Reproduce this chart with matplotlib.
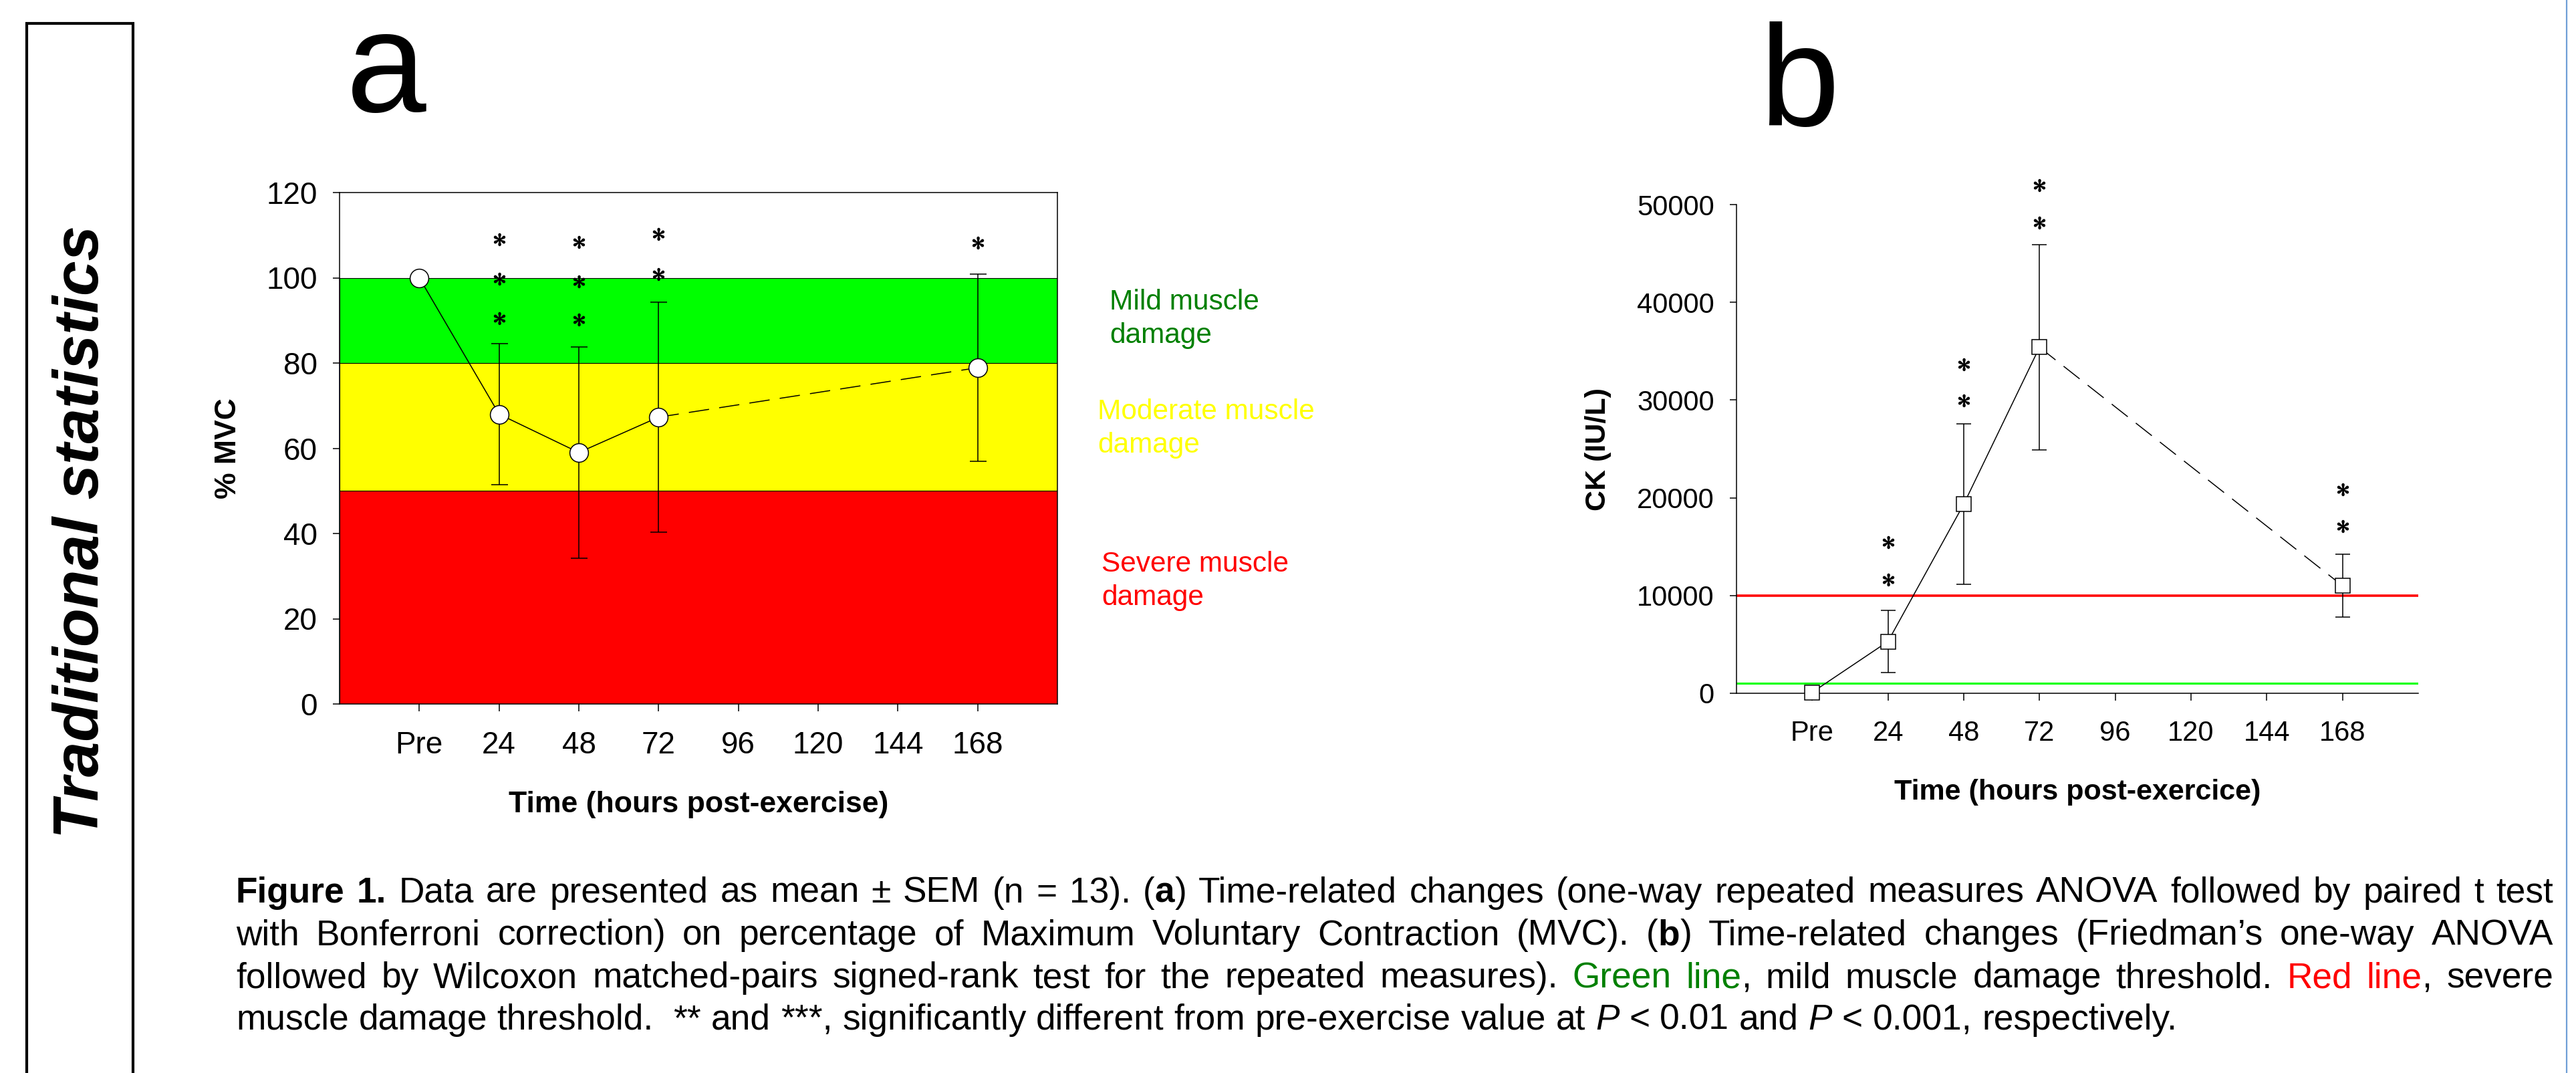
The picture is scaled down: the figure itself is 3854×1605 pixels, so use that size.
import matplotlib
matplotlib.use('Agg')
import matplotlib.pyplot as plt
from matplotlib.patches import Rectangle
from matplotlib.lines import Line2D

plt.rcParams['font.family'] = ['Liberation Sans', 'DejaVu Sans']
plt.rcParams['mathtext.fontset'] = 'stix'

W, H = 3854, 1605

# ---- data ----
tick_hours = [0, 24, 48, 72, 96, 120, 144, 168]
tick_labels = ['Pre', '24', '48', '72', '96', '120', '144', '168']

# panel a: % MVC
mvc_hours = [0, 24, 48, 72, 168]
mvc_mean = [100, 68, 59, 67.3, 78.9]
mvc_sem = [0, 16.6, 24.8, 27, 22]
star_a_hours = [24, 24, 24, 48, 48, 48, 72, 72, 168]
star_a_y = [109, 99.7, 90.5, 108.4, 99.2, 90.2, 110.2, 100.8, 108.2]
zone_bounds = [0, 50, 80, 100]
zone_colors = ['#FF0000', '#FFFF00', '#00FF00']

# panel b: CK
ck_hours = [0, 24, 48, 72, 168]
ck_mean = [100, 5300, 19350, 35400, 11000]
ck_sem = [0, 3180, 8200, 10500, 3230]
star_b_hours = [24, 24, 48, 48, 72, 72, 168, 168]
star_b_y = [15440, 11610, 33640, 29950, 51980, 48150, 20830, 17080]
severe_ck = 10000
mild_ck = 1000


def fx(px):
    return px / W


def fy(py):
    return 1 - py / H


fig = plt.figure(figsize=(W / 100, H / 100), dpi=100)


def style_axes(ax, size):
    ax.set_xlim(-24, 192)
    ax.set_xticks(tick_hours)
    ax.set_xticklabels(tick_labels)
    for s in ax.spines.values():
        s.set_linewidth(1.1)
    ax.tick_params(axis='x', length=8, width=1.1, pad=21, labelsize=size)
    ax.tick_params(axis='y', length=7, width=1.1, pad=17, labelsize=size)


# ---- panel a ----
axa = fig.add_axes([fx(508), fy(1053), fx(1074), 765 / H])
for lo, hi, c in zip(zone_bounds[:-1], zone_bounds[1:], zone_colors):
    axa.axhspan(lo, hi, facecolor=c, edgecolor='k', lw=0.8, zorder=0)
axa.set_ylim(0, 120)
axa.set_yticks(range(0, 121, 20))
style_axes(axa, 33)
axa.errorbar(mvc_hours[1:], mvc_mean[1:], yerr=mvc_sem[1:], fmt='none', ecolor='k',
             elinewidth=1.1, capsize=9, capthick=1.1, zorder=3)
axa.plot(mvc_hours[:4], mvc_mean[:4], color='k', lw=1.1, zorder=3)
axa.plot(mvc_hours[3:], mvc_mean[3:], color='k', lw=1.1, ls=(0, (20, 10)), zorder=3)
axa.plot(mvc_hours, mvc_mean, ls='none', marker='o', ms=20, mfc='white', mec='k',
         mew=1.1, zorder=4)
axa.plot(star_a_hours, star_a_y, ls='none', marker=r'$\ast$', ms=13, color='k',
         clip_on=False, zorder=5)
axa.set_ylabel('% MVC', fontsize=32, fontweight='bold')
axa.yaxis.set_label_coords(-0.1546, 0.5)
axa.yaxis.label.set_va('center')
axa.set_xlabel('Time (hours post-exercise)', fontsize=32, fontweight='bold')
axa.xaxis.set_label_coords(0.5, -0.212)
axa.xaxis.label.set_va('baseline')

# zone labels
zone_text = [('Mild muscle', 'damage', '#008000', 1660, 463),
             ('Moderate muscle', 'damage', '#FFFF00', 1642, 627),
             ('Severe muscle', 'damage', '#FF0000', 1648, 855)]
for l1, l2, c, x, y in zone_text:
    fig.text(fx(x), fy(y), l1, color=c, fontsize=30.5, va='baseline')
    fig.text(fx(x), fy(y + 50), l2, color=c, fontsize=30.5, va='baseline')

# ---- panel b ----
axb = fig.add_axes([fx(2598), fy(1037), fx(1020), 731 / H])
axb.set_ylim(0, 50000)
axb.set_yticks(range(0, 50001, 10000))
style_axes(axb, 30)
axb.spines['top'].set_visible(False)
axb.spines['right'].set_visible(False)
axb.axhline(severe_ck, color='#FF0000', lw=2.6, zorder=2)
axb.axhline(mild_ck, color='#00FF00', lw=2.2, zorder=2)
axb.errorbar(ck_hours[1:], ck_mean[1:], yerr=ck_sem[1:], fmt='none', ecolor='k',
             elinewidth=1.1, capsize=8, capthick=1.1, zorder=3)
axb.plot(ck_hours[:4], ck_mean[:4], color='k', lw=1.1, zorder=3)
axb.plot(ck_hours[3:], ck_mean[3:], color='k', lw=1.1, ls=(0, (20, 10)), zorder=3)
axb.plot(ck_hours, ck_mean, ls='none', marker='s', ms=16, mfc='white', mec='k',
         mew=1.1, zorder=4, clip_on=False)
axb.plot(star_b_hours, star_b_y, ls='none', marker=r'$\ast$', ms=13, color='k',
         clip_on=False, zorder=5)
axb.set_ylabel('CK (IU/L)', fontsize=31, fontweight='bold')
axb.yaxis.set_label_coords(-0.203, 0.5)
axb.yaxis.label.set_va('center')
axb.set_xlabel('Time (hours post-exercice)', fontsize=31, fontweight='bold')
axb.xaxis.set_label_coords(0.5, -0.218)
axb.xaxis.label.set_va('baseline')

# panel letters
fig.text(fx(518), fy(167), 'a', fontsize=155, va='baseline')
fig.text(fx(2632), fy(188), 'b', fontsize=155, va='baseline')

# left box with rotated title
fig.add_artist(Rectangle((fx(40), fy(1650)), fx(159), (1650 - 35) / H, fill=False,
                         ec='k', lw=3, transform=fig.transFigure))
fig.text(fx(123), fy(795), 'Traditional statistics', rotation=90, fontsize=68,
         fontweight='bold', style='italic', ha='center', va='center')

# right window edge
fig.add_artist(Line2D([fx(3840)] * 2, [0, 1], color='#6f9fd6', lw=1.6,
                      transform=fig.transFigure))

# ---- caption (justified) ----
caption = [
    [('Figure 1.', 'b'), (' Data are presented as mean \u00b1 SEM (n = 13). (', ''), ('a', 'b'),
     (') Time-related changes (one-way repeated measures ANOVA followed by paired t test', '')],
    [('with Bonferroni correction) on percentage of Maximum Voluntary Contraction (MVC). (', ''),
     ('b', 'b'), (') Time-related changes (Friedman\u2019s one-way ANOVA', '')],
    [('followed by Wilcoxon matched-pairs signed-rank test for the repeated measures). ', ''),
     ('Green line', 'g'), (', mild muscle damage threshold. ', ''), ('Red line', 'r'),
     (', severe', '')],
    [('muscle damage threshold.  ** and ***, significantly different from pre-exercise value at ', ''),
     ('P', 'i'), (' < 0.01 and ', ''), ('P', 'i'), (' < 0.001, respectively.', '')],
]
styles = {'': {}, 'b': {'fontweight': 'bold'}, 'i': {'style': 'italic'},
          'g': {'color': '#008000'}, 'r': {'color': '#FF0000'}}
cap_size = 38.3
cap_left, cap_right = 353, 3820
cap_base = [1350, 1413, 1477, 1540]

renderer = fig.canvas.get_renderer()


def width_of(s, st):
    t = fig.text(0, 0, s, fontsize=cap_size, **styles[st])
    w = t.get_window_extent(renderer).width
    t.remove()
    return w


space_w = width_of('x x', '') - width_of('xx', '')

for li, runs in enumerate(caption):
    # split runs into words, keeping the count of spaces before each word
    words, gaps = [], []
    cur, nsp = [], 0
    for text, st in runs:
        buf = ''
        for ch in text:
            if ch == ' ':
                if buf:
                    cur.append((buf, st))
                    buf = ''
                if cur:
                    words.append(cur)
                    gaps.append(nsp)
                    cur, nsp = [], 0
                nsp += 1
            else:
                buf += ch
        if buf:
            cur.append((buf, st))
    if cur:
        words.append(cur)
        gaps.append(nsp)
    widths = [[width_of(s, st) for s, st in w] for w in words]
    total = sum(sum(w) for w in widths)
    last = li == len(caption) - 1
    if last:
        gap = space_w
    else:
        gap = (cap_right - cap_left - total) / (len(words) - 1)
    x = cap_left
    y = fy(cap_base[li])
    for k, (w, ws) in enumerate(zip(words, widths)):
        if k > 0:
            x += gap * (gaps[k] if last else 1)
        for (s, st), pw in zip(w, ws):
            fig.text(fx(x), y, s, fontsize=cap_size, va='baseline', **styles[st])
            x += pw

fig.savefig('out.png', dpi=100, facecolor='white')
